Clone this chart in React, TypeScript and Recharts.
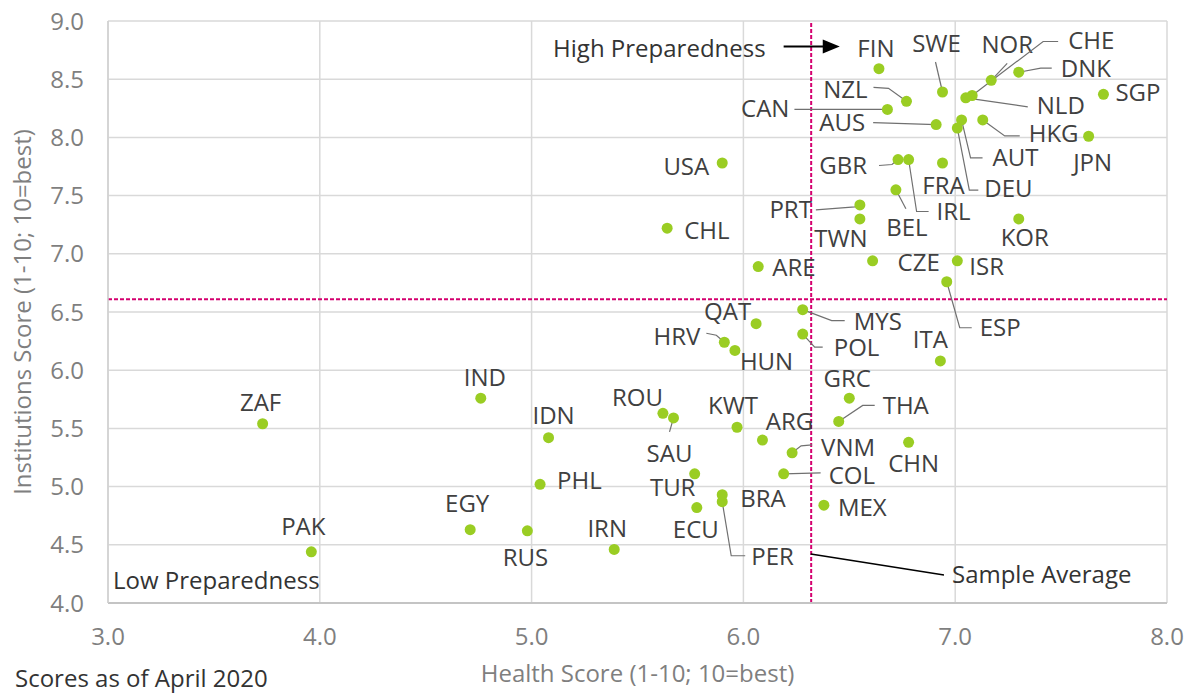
import React from "react";
import {
  ScatterChart,
  Scatter,
  XAxis,
  YAxis,
  CartesianGrid,
  ReferenceLine,
  ReferenceDot,
  Label,
} from "recharts";

// country codes with health (x) and institutions (y) scores
const countries = [
  "FIN", "SWE", "NOR", "DNK", "CHE", "NLD", "SGP", "JPN", "HKG", "AUT",
  "DEU", "FRA", "GBR", "IRL", "BEL", "PRT", "TWN", "KOR", "CZE", "ISR",
  "ESP", "ITA", "MYS", "POL", "GRC", "THA", "CHN", "VNM", "COL", "MEX",
  "PER", "BRA", "ECU", "TUR", "SAU", "ROU", "KWT", "ARG", "HRV", "HUN",
  "QAT", "IND", "IDN", "PHL", "EGY", "RUS", "IRN", "ZAF", "PAK", "USA",
  "CHL", "ARE", "CAN", "AUS", "NZL",
];
const health = [
  6.64, 6.94, 7.17, 7.30, 7.08, 7.05, 7.70, 7.63, 7.13, 7.03,
  7.01, 6.94, 6.73, 6.78, 6.72, 6.55, 6.55, 7.30, 6.61, 7.01,
  6.96, 6.93, 6.28, 6.28, 6.50, 6.45, 6.78, 6.23, 6.19, 6.38,
  5.90, 5.90, 5.78, 5.77, 5.67, 5.62, 5.97, 6.09, 5.91, 5.96,
  6.06, 4.76, 5.08, 5.04, 4.71, 4.98, 5.39, 3.73, 3.96, 5.90,
  5.64, 6.07, 6.68, 6.91, 6.77,
];
const institutions = [
  8.59, 8.39, 8.49, 8.56, 8.36, 8.34, 8.37, 8.01, 8.15, 8.15,
  8.08, 7.78, 7.81, 7.81, 7.55, 7.42, 7.30, 7.30, 6.94, 6.94,
  6.76, 6.08, 6.52, 6.31, 5.76, 5.56, 5.38, 5.29, 5.11, 4.84,
  4.87, 4.93, 4.82, 5.11, 5.59, 5.63, 5.51, 5.40, 6.24, 6.17,
  6.40, 5.76, 5.42, 5.02, 4.63, 4.62, 4.46, 5.54, 4.44, 7.78,
  7.22, 6.89, 8.24, 8.11, 8.31,
];

const xTicks = [3, 4, 5, 6, 7, 8];
const yTicks = [4, 4.5, 5, 5.5, 6, 6.5, 7, 7.5, 8, 8.5, 9];
const avgHealth = 6.32;
const avgInstitutions = 6.61;

const data = countries.map((code, i) => ({
  code,
  health: health[i],
  institutions: institutions[i],
}));

const FONT = '"Open Sans", sans-serif';
const GREEN = "#9acd23";
const MAGENTA = "#d4006f";

type Layout = {
  dx: number;
  dy: number;
  anchor: "start" | "middle" | "end";
  leader?: number[][];
};

// label placement relative to each dot (pixels)
const labelLayout: Record<string, Layout> = {
  FIN: { anchor: "middle", dx: -3, dy: -20 },
  SWE: { anchor: "middle", dx: -6, dy: -49, leader: [[-7, -30], [0, 0]] },
  NOR: { anchor: "middle", dx: 16, dy: -36, leader: [[16, -17], [0, 0]] },
  CHE: { anchor: "start", dx: 96, dy: -55, leader: [[86, -54], [71, -54], [0, 0]] },
  DNK: { anchor: "start", dx: 42, dy: -4, leader: [[33, -4], [22, -4], [0, 0]] },
  NLD: { anchor: "start", dx: 71, dy: 8, leader: [[62, 9], [0, 0]] },
  SGP: { anchor: "start", dx: 12, dy: -2 },
  JPN: { anchor: "middle", dx: 4, dy: 26 },
  HKG: { anchor: "start", dx: 46, dy: 14, leader: [[37, 16], [22, 16], [0, 0]] },
  AUT: { anchor: "start", dx: 31, dy: 38, leader: [[21, 38], [9, 38], [0, 0]] },
  DEU: { anchor: "start", dx: 27, dy: 60, leader: [[21, 62], [12, 62], [0, 0]] },
  FRA: { anchor: "middle", dx: 1, dy: 22 },
  GBR: { anchor: "end", dx: -31, dy: 6, leader: [[-19, 6], [-6, 5], [0, 0]] },
  IRL: { anchor: "start", dx: 28, dy: 52, leader: [[20, 52], [8, 52], [0, 0]] },
  BEL: { anchor: "middle", dx: 11, dy: 38, leader: [[10, 19], [0, 0]] },
  PRT: { anchor: "end", dx: -48, dy: 5, leader: [[-44, 5], [-5, 2], [0, 0]] },
  TWN: { anchor: "middle", dx: -19, dy: 20 },
  KOR: { anchor: "middle", dx: 6, dy: 19 },
  CZE: { anchor: "start", dx: 25, dy: 2 },
  ISR: { anchor: "start", dx: 12, dy: 6 },
  ESP: { anchor: "start", dx: 33, dy: 46, leader: [[25, 46], [13, 46], [0, 0]] },
  ITA: { anchor: "middle", dx: -10, dy: -21 },
  MYS: { anchor: "start", dx: 51, dy: 12, leader: [[42, 11], [29, 11], [0, 0]] },
  POL: { anchor: "start", dx: 31, dy: 13, leader: [[20, 13], [12, 13], [0, 0]] },
  GRC: { anchor: "middle", dx: -2, dy: -20 },
  THA: { anchor: "start", dx: 44, dy: -16, leader: [[36, -16], [24, -16], [0, 0]] },
  CHN: { anchor: "middle", dx: 5, dy: 21 },
  VNM: { anchor: "start", dx: 29, dy: -5, leader: [[20, -8], [9, -7], [0, 0]] },
  COL: { anchor: "start", dx: 45, dy: 2, leader: [[37, -1], [0, 0]] },
  MEX: { anchor: "start", dx: 14, dy: 2 },
  PER: { anchor: "start", dx: 29, dy: 55, leader: [[23, 54], [9, 54], [0, 0]] },
  BRA: { anchor: "start", dx: 18, dy: 4 },
  ECU: { anchor: "middle", dx: -1, dy: 22 },
  TUR: { anchor: "middle", dx: -22, dy: 14 },
  SAU: { anchor: "middle", dx: -4, dy: 36, leader: [[-4, 14], [0, 0]] },
  ROU: { anchor: "end", dx: 0, dy: -16 },
  KWT: { anchor: "middle", dx: -4, dy: -22 },
  ARG: { anchor: "middle", dx: 27, dy: -19 },
  HRV: { anchor: "end", dx: -24, dy: -6, leader: [[-18, -9], [-8, -7], [0, 0]] },
  HUN: { anchor: "start", dx: 5, dy: 11 },
  QAT: { anchor: "end", dx: -5, dy: -12 },
  IND: { anchor: "middle", dx: 4, dy: -21 },
  IDN: { anchor: "middle", dx: 5, dy: -22 },
  PHL: { anchor: "start", dx: 17, dy: -4 },
  EGY: { anchor: "middle", dx: -3, dy: -26 },
  RUS: { anchor: "middle", dx: -2, dy: 27 },
  IRN: { anchor: "middle", dx: -7, dy: -21 },
  ZAF: { anchor: "middle", dx: -2, dy: -21 },
  PAK: { anchor: "middle", dx: -8, dy: -25 },
  USA: { anchor: "end", dx: -13, dy: 3 },
  CHL: { anchor: "start", dx: 17, dy: 2 },
  ARE: { anchor: "start", dx: 14, dy: 1 },
  CAN: { anchor: "end", dx: -98, dy: -1, leader: [[-93, 0], [0, 0]] },
  AUS: { anchor: "end", dx: -71, dy: -2, leader: [[-63, -2], [0, 0]] },
  NZL: { anchor: "end", dx: -39, dy: -12, leader: [[-33, -14], [-18, -13], [0, 0]] },
};

const CountryLabel = (props: any) => {
  const { cx, cy, payload } = props;
  const l = labelLayout[payload.code];
  if (!l) return <g />;
  const pts = l.leader
    ? l.leader.map(([dx, dy]) => `${cx + dx},${cy + dy}`).join(" ")
    : null;
  return (
    <g>
      {pts && (
        <polyline points={pts} fill="none" stroke="#707070" strokeWidth={1.2} />
      )}
      <text
        x={cx + l.dx}
        y={cy + l.dy + 8.5}
        textAnchor={l.anchor}
        fontSize={24}
        fontFamily={FONT}
        fill="#404040"
      >
        {payload.code}
      </text>
    </g>
  );
};

const Dot = (props: any) => (
  <circle cx={props.cx} cy={props.cy} r={5.5} fill={GREEN} />
);

const HighArrow = (p: any) => (
  <g>
    <text
      x={p.x1 - 18}
      y={p.y1 + 10}
      textAnchor="end"
      fontSize={24}
      fontFamily={FONT}
      fill="#333"
    >
      High Preparedness
    </text>
    <line x1={p.x1} y1={p.y1} x2={p.x2 - 12} y2={p.y2} stroke="#000" strokeWidth={2} />
    <polygon
      points={`${p.x2},${p.y2} ${p.x2 - 17},${p.y2 - 7} ${p.x2 - 17},${p.y2 + 7}`}
      fill="#000"
    />
  </g>
);

const AverageNote = (p: any) => (
  <g>
    <line x1={p.x1} y1={p.y1} x2={p.x2} y2={p.y2} stroke="#000" strokeWidth={1.5} />
    <text
      x={p.x2 + 8}
      y={p.y2 + 8}
      fontSize={24}
      fontFamily={FONT}
      fill="#333"
    >
      Sample Average
    </text>
  </g>
);

const LowNote = (p: any) => (
  <text x={p.cx + 5} y={p.cy - 14} fontSize={24} fontFamily={FONT} fill="#333">
    Low Preparedness
  </text>
);

const XTitle = (p: any) => {
  const vb = p.viewBox;
  return (
    <g>
      <text
        x={vb.x + vb.width / 2}
        y={vb.y + 79}
        textAnchor="middle"
        fontSize={24}
        fontFamily={FONT}
        fill="#7f7f7f"
      >
        Health Score (1-10; 10=best)
      </text>
      <text x={7} y={vb.y + 83.5} fontSize={24} fontFamily={FONT} fill="#333">
        Scores as of April 2020
      </text>
    </g>
  );
};

const YTitle = (p: any) => {
  const vb = p.viewBox;
  const cx = 14;
  const cy = vb.y + vb.height / 2;
  return (
    <text
      x={cx}
      y={cy}
      dy={8.5}
      transform={`rotate(-90 ${cx} ${cy})`}
      textAnchor="middle"
      fontSize={24}
      fontFamily={FONT}
      fill="#7f7f7f"
    >
      Institutions Score (1-10; 10=best)
    </text>
  );
};

export default function App() {
  const tickStyle = { fontSize: 24, fill: "#7f7f7f", fontFamily: FONT };
  return (
    <div style={{ width: 1187, height: 685 }}>
      <ScatterChart
        width={1187}
        height={685}
        margin={{ top: 13, right: 28, bottom: 0, left: 0 }}
      >
        <CartesianGrid stroke="#d9d9d9" strokeWidth={1.5} />
        <XAxis
          type="number"
          dataKey="health"
          domain={[3, 8]}
          ticks={xTicks}
          tickFormatter={(v) => Number(v).toFixed(1)}
          height={90}
          tick={tickStyle}
          tickLine={false}
          tickMargin={19}
          axisLine={{ stroke: "#c4c4c4", strokeWidth: 2 }}
          allowDataOverflow
        >
          <Label content={XTitle} />
        </XAxis>
        <YAxis
          type="number"
          dataKey="institutions"
          domain={[4, 9]}
          ticks={yTicks}
          tickFormatter={(v) => Number(v).toFixed(1)}
          width={100}
          tick={tickStyle}
          tickLine={false}
          tickMargin={18}
          axisLine={{ stroke: "#d0d0d0", strokeWidth: 1.5 }}
          allowDataOverflow
        >
          <Label content={YTitle} />
        </YAxis>
        <ReferenceLine
          x={avgHealth}
          stroke={MAGENTA}
          strokeWidth={2}
          strokeDasharray="4 2"
        />
        <ReferenceLine
          y={avgInstitutions}
          stroke={MAGENTA}
          strokeWidth={2}
          strokeDasharray="4 2"
        />
        <ReferenceLine
          segment={[
            { x: 6.19, y: 8.78 },
            { x: 6.455, y: 8.78 },
          ]}
          shape={HighArrow}
        />
        <ReferenceLine
          segment={[
            { x: 6.318, y: 4.42 },
            { x: 6.947, y: 4.24 },
          ]}
          shape={AverageNote}
        />
        <ReferenceDot x={3} y={4} r={0} shape={LowNote} />
        <Scatter
          data={data}
          shape={CountryLabel}
          isAnimationActive={false}
        />
        <Scatter data={data} shape={Dot} isAnimationActive={false} />
      </ScatterChart>
    </div>
  );
}
